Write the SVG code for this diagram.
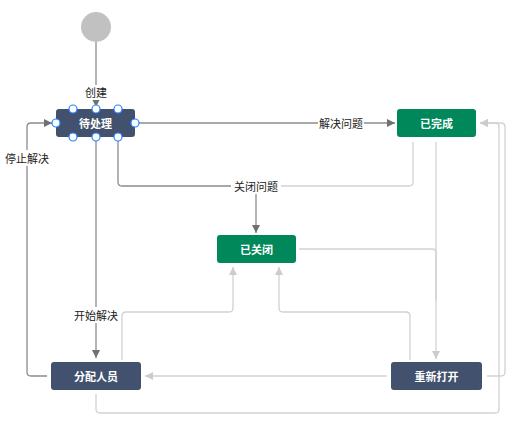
<svg xmlns="http://www.w3.org/2000/svg" width="522" height="430" viewBox="0 0 522 430">
<defs>
<style>
.dk{fill:none;stroke:#8c8c8c;stroke-width:1.3}
.lt{fill:none;stroke:#d2d2d2;stroke-width:1.3}
.lbl{font-family:"Noto Sans CJK SC","Noto Sans",sans-serif;font-size:11px;fill:#222;text-anchor:middle;dominant-baseline:central}
.bg{fill:#fff}
.nt{font-family:"Noto Sans CJK SC","Noto Sans",sans-serif;font-size:11px;font-weight:bold;fill:#fff;text-anchor:middle;dominant-baseline:central}
.blue{fill:#42526e}
.green{fill:#00875a}
.h{fill:#fff;stroke:#2684ff;stroke-width:1.2}
</style>
<marker id="ad" markerUnits="userSpaceOnUse" markerWidth="10" markerHeight="10" viewBox="0 0 10 10" refX="9" refY="5" orient="auto"><path d="M1,1 L9,5 L1,9 Z" fill="#707070"/></marker>
<marker id="al" markerUnits="userSpaceOnUse" markerWidth="10" markerHeight="10" viewBox="0 0 10 10" refX="9" refY="5" orient="auto"><path d="M1,1 L9,5 L1,9 Z" fill="#cccccc"/></marker>
</defs>
<g id="connectors">
<path class="lt" d="M413,142 V182 Q413,186 409,186 H260" />
<path class="lt" d="M436,142 V359" marker-end="url(#al)"/>
<path class="lt" d="M299,249 H432 Q436,249 436,253 V300"/>
<path class="lt" d="M487,376 H501 Q505,376 505,372 V127 Q505,123 501,123 H480" marker-end="url(#al)"/>
<path class="lt" d="M96,394 V409 Q96,413 100,413 H495 Q499,413 499,409 V127 Q499,123 495,123 H480" marker-end="url(#al)"/>
<path class="lt" d="M387,376 H145" marker-end="url(#al)"/>
<path class="lt" d="M122,360 V316 Q122,312 126,312 H229 Q233,312 233,308 V267" marker-end="url(#al)"/>
<path class="lt" d="M410,360 V316 Q410,312 406,312 H283 Q279,312 279,308 V267" marker-end="url(#al)"/>
<path class="dk" d="M96,42 V107" marker-end="url(#ad)"/>
<path class="dk" d="M135,123 H395" marker-end="url(#ad)"/>
<path class="dk" d="M118,137 V182 Q118,186 122,186 H256 V233" marker-end="url(#ad)"/>
<path class="dk" d="M47,376 H31 Q27,376 27,372 V127 Q27,123 31,123 H52" marker-end="url(#ad)"/>
<path class="dk" d="M96,137 V358" marker-end="url(#ad)"/>
<rect class="bg" x="84" y="85" width="24" height="15"/>
<text class="lbl" x="96" y="92">创建</text>
<rect class="bg" x="318" y="115" width="46" height="16"/>
<text class="lbl" x="341" y="123">解决问题</text>
<rect class="bg" x="231" y="178" width="50" height="16"/>
<text class="lbl" x="256" y="186">关闭问题</text>
<rect class="bg" x="4" y="150" width="46" height="16"/>
<text class="lbl" x="27" y="158">停止解决</text>
<rect class="bg" x="73" y="307" width="46" height="16"/>
<text class="lbl" x="96" y="315">开始解决</text>
</g>
<g id="start"><circle cx="96" cy="27" r="15" fill="#c1c1c1"/></g>
<g id="todo">
<rect class="blue" x="56" y="109" width="79" height="28" rx="3"/>
<text class="nt" x="95.5" y="123">待处理</text>
<circle class="h" cx="73" cy="109" r="4"/><circle class="h" cx="96" cy="109" r="4"/><circle class="h" cx="118" cy="109" r="4"/>
<circle class="h" cx="73" cy="137" r="4"/><circle class="h" cx="96" cy="137" r="4"/><circle class="h" cx="118" cy="137" r="4"/>
<circle class="h" cx="56" cy="123" r="4"/><circle class="h" cx="135" cy="123" r="4"/>
</g>
<g id="done"><rect class="green" x="397" y="109" width="79" height="28" rx="3"/><text class="nt" x="436.5" y="123">已完成</text></g>
<g id="closed"><rect class="green" x="217" y="235" width="79" height="28" rx="3"/><text class="nt" x="256.5" y="249">已关闭</text></g>
<g id="assign"><rect class="blue" x="51" y="362" width="90" height="28" rx="3"/><text class="nt" x="96" y="376">分配人员</text></g>
<g id="reopen"><rect class="blue" x="391" y="362" width="91" height="28" rx="3"/><text class="nt" x="436.5" y="376">重新打开</text></g>
</svg>
